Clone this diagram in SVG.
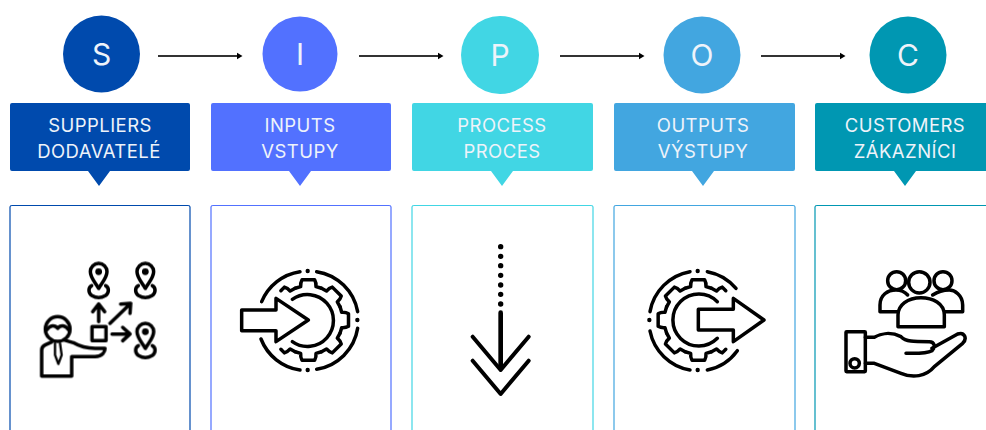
<svg xmlns="http://www.w3.org/2000/svg" width="986" height="430" viewBox="0 0 986 430">
<style>
text{font-family:"Inter","Liberation Sans",sans-serif;text-anchor:middle;fill:#eef3fa}
.big{font-size:30px}
.lab{font-size:18.5px;letter-spacing:.45px}
.panel{fill:#fff;stroke-width:1.2}
.ic{fill:none;stroke:#000;stroke-width:10.500;stroke-linecap:round;stroke-linejoin:round}
.conn{stroke:#333;stroke-width:1.800;fill:none;marker-end:url(#ah)}
</style>
<defs>
<marker id="ah" markerUnits="userSpaceOnUse" markerWidth="7" markerHeight="8" refX="1" refY="4" orient="auto"><path d="M0 .8L5.500 4L0 7.200z" fill="#000"/></marker>
<filter id="soft" x="-5%" y="-5%" width="110%" height="110%"><feGaussianBlur stdDeviation="0.45"/></filter>
<path id="seg" d="M-39.400-95.200L-23-100Q-24-112-19-120.500H19Q24-112 23-100L39.400-95.200"/>
<path id="halfR" d="M4-120.500H19Q24-112 23-100L39.400-95.200"/>
<path id="halfL" d="M-4-120.500H-19Q-24-112-23-100L-39.400-95.200"/>
<g id="pin"><path d="M0 50C-12 30-25 18-25 0A25 25 0 0 1 25 0C25 18 12 30 0 50z"/><circle r="5" fill="#000"/><path d="M-21 42C-32 47-32 64-20 72C-8 79 8 79 20 72C32 64 32 47 21 42"/></g>
</defs>
<rect width="986" height="430" fill="#fff"/>

<g id="connectors">
<path class="conn" d="M158 56H238"/>
<path class="conn" d="M359 56H439"/>
<path class="conn" d="M560 56H640"/>
<path class="conn" d="M761 56H841"/>
</g>

<g id="node-s">
<circle cx="101.500" cy="54" r="38.500" fill="#004aad"/>
<text class="big" x="101.500" y="65">S</text>
<path d="M12 103H188Q190 103 190 105V169Q190 171 188 171H110L99 186L88 171H12Q10 171 10 169V105Q10 103 12 103z" fill="#004aad"/>
<text class="lab" x="100" y="131.500">SUPPLIERS</text>
<text class="lab" x="99" y="157.500">DODAVATELÉ</text>
<path class="panel" stroke="#004aad" d="M10 432V207Q10 205.500 12 205.500H188Q190 205.500 190 207V432"/>
<g class="ic" filter="url(#soft)" transform="translate(0 230) scale(.33333)">
<use href="#pin" x="296" y="125"/><use href="#pin" x="436" y="125"/><use href="#pin" x="436" y="305"/>
<path d="M296 275V224M278 245L296 222L314 245"/>
<path d="M330 280L392 220M362 222L392 220L390 250"/>
<path d="M336 312H390M368 292L390 312L368 332"/>
<rect x="276" y="290" width="42" height="42"/>
<circle cx="173" cy="297" r="37"/>
<path d="M140 300C150 284 165 284 173 295C181 284 196 284 206 300"/>
<path d="M155 336L135 345Q125 350 125 360V438H215V380H285C308 378 315 365 315 355H285C260 355 240 350 220 338L192 330"/>
<path d="M165 340V375L175 402L185 375L180 340" stroke-width="7"/>
</g>
</g>

<g id="node-i">
<circle cx="300" cy="54" r="37.500" fill="#5271ff"/>
<text class="big" x="300" y="65">I</text>
<path d="M213 103H389Q391 103 391 105V169Q391 171 389 171H311L300 186L289 171H213Q211 171 211 169V105Q211 103 213 103z" fill="#5271ff"/>
<text class="lab" x="300" y="131.500">INPUTS</text>
<text class="lab" x="300" y="157.500">VSTUPY</text>
<path class="panel" stroke="#5271ff" d="M211 432V207Q211 205.500 213 205.500H389Q391 205.500 391 207V432"/>
<g class="ic" filter="url(#soft)" transform="translate(205 230) scale(.33333)">
<path d="M170 215A148 148 0 0 1 285 125M335 125A148 148 0 0 1 458 245M458 295A148 148 0 0 1 335 418M285 420A148 148 0 0 1 168 327"/>
<path d="M308 123h.1M457 270h.1M308 420h.1" stroke-width="13"/>
<g transform="translate(310 270)">
<use href="#seg"/><use href="#seg" transform="rotate(45)"/><use href="#seg" transform="rotate(90)"/><use href="#seg" transform="rotate(135)"/><use href="#seg" transform="rotate(180)"/>
<use href="#halfR" transform="rotate(-45)"/><use href="#halfL" transform="rotate(225)"/>
</g>
<path d="M262 208A78 78 0 1 1 262 335"/>
<path d="M110 240H213V205L310 270L213 335V302H110z"/>
</g>
</g>

<g id="node-p">
<circle cx="500" cy="55" r="39" fill="#41d6e4"/>
<text class="big" x="500" y="65.500">P</text>
<path d="M414 103H591Q593 103 593 105V169Q593 171 591 171H513L502 186L491 171H414Q412 171 412 169V105Q412 103 414 103z" fill="#41d6e4"/>
<text class="lab" x="502" y="131.500">PROCESS</text>
<text class="lab" x="502" y="157.500">PROCES</text>
<path class="panel" stroke="#41d6e4" d="M412 432V207Q412 205.500 414 205.500H591Q593 205.500 593 207V432"/>
<g class="ic" filter="url(#soft)" transform="translate(410 230) scale(.33333)">
<path d="M272 50h.1M272 79h.1M272 107h.1M272 136h.1M272 165h.1M272 193h.1M272 222h.1" stroke-width="16"/>
<path d="M272 248V415" stroke-width="14"/>
<path d="M188 320L272 420L356 320M188 392L272 492L356 392" stroke-width="12"/>
</g>
</g>

<g id="node-o">
<circle cx="702" cy="55" r="38.500" fill="#42a6e0"/>
<text class="big" x="702" y="66">O</text>
<path d="M616 103H793Q795 103 795 105V169Q795 171 793 171H714L703 186L692 171H616Q614 171 614 169V105Q614 103 616 103z" fill="#42a6e0"/>
<text class="lab" x="703" y="131.500">OUTPUTS</text>
<text class="lab" x="703" y="157.500">VÝSTUPY</text>
<path class="panel" stroke="#42a6e0" d="M614 432V207Q614 205.500 616 205.500H793Q795 205.500 795 207V432"/>
<g class="ic" filter="url(#soft)" transform="translate(610 230) scale(.33333)">
<path d="M240 125A148 148 0 0 0 120 245M120 303A148 148 0 0 0 240 420M292 420A148 148 0 0 0 382 362M292 125A148 148 0 0 1 378 175"/>
<path d="M263 123h.1M118 270h.1M263 420h.1" stroke-width="13"/>
<g transform="translate(265 270)">
<use href="#seg"/><use href="#seg" transform="rotate(-45)"/><use href="#seg" transform="rotate(-90)"/><use href="#seg" transform="rotate(-135)"/><use href="#seg" transform="rotate(180)"/>
<use href="#halfL" transform="rotate(45)"/><use href="#halfR" transform="rotate(135)"/>
</g>
<path d="M322 215A78 78 0 1 0 322 325"/>
<path d="M265 238H370V205L462 270L370 335V300H265z"/>
</g>
</g>

<g id="node-c">
<circle cx="908" cy="55" r="38.500" fill="#0097b2"/>
<text class="big" x="908" y="66">C</text>
<path d="M817 103H988V171H916L905 186L894 171H817Q815 171 815 169V105Q815 103 817 103z" fill="#0097b2"/>
<text class="lab" x="905" y="131.500">CUSTOMERS</text>
<text class="lab" x="905" y="157.500">ZÁKAZNÍCI</text>
<path class="panel" stroke="#0097b2" d="M815 432V207Q815 205.500 817 205.500H988"/>
<g class="ic" filter="url(#soft)" transform="translate(806 230) scale(.33333)">
<circle cx="272" cy="152" r="27"/>
<circle cx="411" cy="152" r="27"/>
<path d="M278 245H222V225C222 195 245 180 270 180C285 180 296 185 305 195M410 245H470V225C470 195 445 180 430 180C415 180 395 185 380 195" fill="#fff"/>
<circle cx="340" cy="157" r="32" fill="#fff"/>
<path d="M276 290H415V255C415 220 380 203 345 203C305 203 276 225 276 255z" fill="#fff"/>
<rect x="120" y="305" width="58" height="120" rx="2"/>
<circle cx="146" cy="400" r="14"/>
<path d="M178 322H205C225 310 255 305 285 320C300 335 320 335 370 335C385 335 390 350 378 362C360 372 330 370 300 370M378 355L455 312C475 305 485 325 470 340L385 410C360 440 320 445 285 430L205 400H178"/>
</g>
</g>
</svg>
